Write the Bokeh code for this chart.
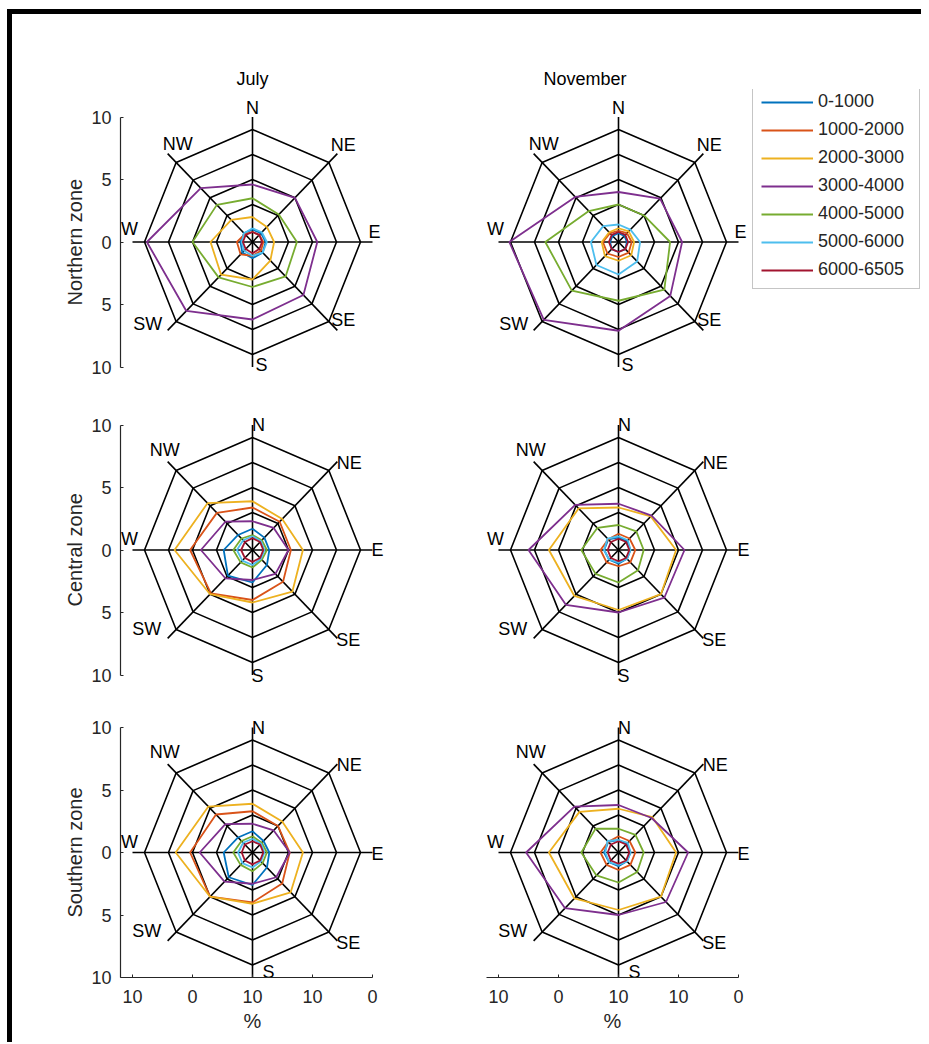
import math
from bokeh.plotting import figure
from bokeh.models import Range1d, FixedTicker, Legend, LegendItem, Div, Spacer, Title
from bokeh.layouts import row, column
from bokeh.core.properties import value
from bokeh.embed import file_html
from bokeh.resources import INLINE

# ---------------- data ----------------
directions = ["N", "NE", "E", "SE", "S", "SW", "W", "NW"]
direction_angles = [0, 45, 90, 135, 180, 225, 270, 315]   # compass degrees
ring_radii = [3, 5, 7, 9]
spoke_length = 10

height_bands = ["0-1000", "1000-2000", "2000-3000", "3000-4000",
                "4000-5000", "5000-6000", "6000-6505"]
band_colors = ["#0072BD", "#D95319", "#EDB120", "#7E2F8E",
               "#77AC30", "#4DBEEE", "#A2142F"]

months = ["July", "November"]
zones = ["Northern zone", "Central zone", "Southern zone"]

# values (%) per height band, directions N, NE, E, SE, S, SW, W, NW
jul_north = [
    [1.0, 1.0, 1.1, 1.2, 1.3, 1.2, 1.0, 1.0],
    [0.8, 0.8, 0.9, 1.0, 1.1, 1.4, 1.3, 0.9],
    [2.0, 1.7, 1.8, 2.1, 3.0, 3.7, 3.5, 2.5],
    [4.6, 5.0, 5.4, 6.0, 6.2, 7.8, 8.8, 6.1],
    [3.5, 3.1, 3.7, 3.9, 3.6, 4.0, 5.0, 4.2],
    [1.1, 1.1, 1.2, 1.2, 1.1, 1.0, 0.9, 1.0],
    [0.8, 0.8, 0.8, 0.8, 0.9, 0.8, 0.8, 0.8],
]
nov_north = [
    [0.7, 0.7, 0.7, 0.8, 0.8, 0.8, 0.7, 0.7],
    [0.9, 1.0, 1.1, 1.2, 1.2, 1.3, 1.3, 1.0],
    [1.1, 1.2, 1.3, 1.5, 1.5, 1.6, 1.4, 1.1],
    [4.0, 4.9, 5.3, 6.1, 7.1, 8.8, 9.1, 5.1],
    [3.0, 3.0, 4.3, 5.4, 4.7, 5.5, 6.1, 3.5],
    [1.4, 1.4, 1.8, 2.2, 2.6, 2.6, 2.3, 1.8],
    [0.8, 0.8, 0.8, 0.8, 0.8, 0.8, 0.8, 0.8],
]
jul_central = [
    [1.7, 1.4, 1.4, 1.7, 2.6, 2.9, 2.4, 1.7],
    [3.4, 3.2, 3.2, 3.6, 4.0, 4.9, 5.2, 4.2],
    [3.9, 3.5, 4.2, 4.7, 4.2, 5.0, 6.5, 5.3],
    [2.3, 2.5, 3.0, 2.7, 2.4, 3.2, 4.3, 3.2],
    [1.2, 1.1, 1.2, 1.1, 1.4, 1.4, 1.6, 1.3],
    [1.1, 1.0, 1.0, 1.0, 1.2, 1.2, 1.3, 1.1],
    [0.95, 0.9, 0.9, 0.9, 0.95, 0.9, 0.95, 0.9],
]
nov_central = [
    [1.0, 1.0, 1.0, 1.0, 1.1, 1.1, 1.2, 1.2],
    [1.3, 1.3, 1.4, 1.4, 1.3, 1.4, 1.5, 1.2],
    [3.4, 3.8, 4.8, 5.0, 4.8, 5.2, 5.8, 4.7],
    [3.7, 3.9, 5.5, 5.4, 5.0, 6.2, 7.5, 5.1],
    [2.0, 2.1, 2.1, 2.3, 2.6, 2.7, 3.1, 2.5],
    [1.1, 1.1, 1.0, 1.0, 1.0, 1.1, 1.2, 1.3],
    [0.9, 0.9, 0.9, 0.9, 0.9, 0.9, 0.9, 0.9],
]
jul_south = [
    [1.7, 1.3, 1.4, 1.7, 2.6, 2.8, 2.4, 1.7],
    [3.3, 3.0, 3.1, 3.5, 4.0, 5.0, 5.2, 4.3],
    [3.9, 3.5, 4.2, 4.5, 4.1, 5.0, 6.4, 5.2],
    [2.3, 2.5, 3.1, 2.8, 2.5, 3.3, 4.4, 3.2],
    [1.3, 1.1, 1.2, 1.2, 1.5, 1.4, 1.6, 1.3],
    [1.1, 1.0, 1.0, 1.0, 1.2, 1.2, 1.2, 1.1],
    [0.9, 0.9, 0.9, 0.9, 0.95, 0.9, 0.9, 0.9],
]
nov_south = [
    [1.0, 1.0, 1.0, 1.0, 1.1, 1.1, 1.2, 1.2],
    [1.3, 1.3, 1.4, 1.4, 1.4, 1.4, 1.5, 1.2],
    [3.5, 4.0, 4.8, 5.0, 4.6, 5.2, 5.8, 4.6],
    [3.8, 3.9, 5.8, 5.6, 5.0, 6.3, 7.7, 5.2],
    [1.9, 2.0, 2.1, 2.2, 2.4, 2.6, 3.1, 2.7],
    [1.0, 1.1, 1.0, 1.0, 1.0, 1.1, 1.1, 1.3],
    [0.9, 0.9, 0.9, 0.9, 0.9, 0.9, 0.9, 0.9],
]

y_ticks = [-10, -5, 0, 5, 10]
y_tick_labels = ["10", "5", "0", "5", "10"]
x_ticks = [-10, -5, 0, 5, 10]
x_tick_labels = ["10", "0", "10", "10", "0"]
x_label = "%"

# ---------------- style ----------------
FONT = "Liberation Sans"
AX = "#262626"
# pixel offsets of direction labels from the spoke ends, per row
label_dx = [
    [0, 6, 2, 6, 9, -20, -3, 10],
    [6, 12, 5, 11, 5, -21, -3, -3],
    [6, 12, 5, 11, 16, -21, -3, -3],
]
label_dy = [
    [-9, -9, -10, -10, -2, -6, -13, -10],
    [0, 1, 0, 2, 1, -9, -11, -12],
    [0, 1, 1, 2, -6, -10, -11, -12],
]
# frame geometry per row: (border top, frame height, border bottom, y min, y max)
row_geom = [
    (75, 290, 3, -11, 12.2),
    (15, 290, 3, -11, 12.2),
    (9, 278, 65, -10, 12.24),
]
# offset (px, upward from frame bottom) of the start of each zone label
zone_label_offset = [74, 81, 60]

panels = [[jul_north, nov_north], [jul_central, nov_central], [jul_south, nov_south]]


def polar_xy(radii):
    xs = [r * math.sin(math.radians(a)) for r, a in zip(radii, direction_angles)]
    ys = [r * math.cos(math.radians(a)) for r, a in zip(radii, direction_angles)]
    return xs + xs[:1], ys + ys[:1]


def style_axis(ax, ticks, labels, bounds):
    ax.ticker = FixedTicker(ticks=ticks)
    ax.major_label_overrides = {t: l for t, l in zip(ticks, labels)}
    ax.bounds = bounds
    ax.axis_line_color = AX
    ax.axis_line_width = 1.2
    ax.major_tick_line_color = AX
    ax.major_tick_in = 3
    ax.major_tick_out = 0
    ax.minor_tick_line_color = None
    ax.major_label_text_font = FONT
    ax.major_label_text_font_size = "18px"
    ax.major_label_text_color = AX


def make_panel(vals, col, r):
    left = col == 0
    top_b, fh, bot_b, y0, y1 = row_geom[r]
    H = top_b + fh + bot_b
    if left:
        W, mbl, mbr = 428, 108, 50
        xr = Range1d(-11, 11.5)
    else:
        W, mbl, mbr = 481, 40, 1
        xr = Range1d(-11.5, -11.5 + 440 / 12)
    kw = {}
    if r == 0:
        kw["title"] = months[col]
    p = figure(width=W, height=H, x_range=xr, y_range=Range1d(y0, y1),
               output_backend="svg", toolbar_location=None,
               x_axis_location="below" if r == 2 else None,
               y_axis_location="left" if left else None,
               min_border_left=mbl, min_border_right=mbr,
               min_border_top=top_b, min_border_bottom=bot_b, **kw)
    p.grid.visible = False
    p.outline_line_color = None
    p.background_fill_color = "white"
    p.border_fill_color = None

    # rings and spokes
    for rr in ring_radii:
        xs, ys = polar_xy([rr] * len(directions))
        p.line(xs, ys, line_color="black", line_width=1.6)
    ex, ey = polar_xy([spoke_length] * len(directions))
    p.segment(x0=[0] * 8, y0=[0] * 8, x1=ex[:8], y1=ey[:8],
              line_color="black", line_width=1.6)

    renderers = []
    for k, series in enumerate(vals):
        xs, ys = polar_xy(series)
        renderers.append(p.line(xs, ys, line_color=band_colors[k], line_width=1.8))

    p.text(x=ex[:8], y=ey[:8], text=directions, x_offset=label_dx[r], y_offset=label_dy[r],
           text_font=value(FONT), text_font_size="18px", text_color="black",
           text_align="center", text_baseline="middle")

    if left:
        ya = p.yaxis[0]
        style_axis(ya, y_ticks, y_tick_labels, (-10, 10))
        ya.major_label_standoff = 9
        zt = Title(text=zones[r], align="left", offset=zone_label_offset[r],
                   text_font=FONT, text_font_size="20px", text_font_style="normal",
                   text_color=AX, standoff=6)
        p.add_layout(zt, "left")
    if r == 2:
        xa = p.xaxis[0]
        style_axis(xa, x_ticks, x_tick_labels, (-11, 10))
        xa.major_label_standoff = 12
        pt = Title(text=x_label, align="left", offset=123 if left else 123,
                   text_font=FONT, text_font_size="20px", text_font_style="normal",
                   text_color=AX, standoff=4)
        p.add_layout(pt, "below")
    if r == 0:
        p.title.text_font = FONT
        p.title.text_font_size = "18px"
        p.title.text_font_style = "normal"
        p.title.text_color = "black"
        p.title.align = "left"
        p.title.offset = 116 if left else 63
        p.title.standoff = 2
    if r == 0 and not left:
        legend = Legend(items=[LegendItem(label=b, renderers=[rr])
                               for b, rr in zip(height_bands, renderers)],
                        location=(272, 90))
        legend.label_text_font = FONT
        legend.label_text_font_size = "18px"
        legend.label_text_color = AX
        legend.glyph_width = 52
        legend.glyph_height = 20
        legend.label_height = 20
        legend.label_width = 93
        legend.spacing = 7
        legend.padding = 8
        legend.label_standoff = 5
        legend.margin = 0
        legend.border_line_color = "#8c8c8c"
        legend.border_line_width = 1
        legend.background_fill_color = "white"
        legend.background_fill_alpha = 1
        p.add_layout(legend)
    return p


rows = []
for r in range(3):
    rows.append(row(make_panel(panels[r][0], 0, r), make_panel(panels[r][1], 1, r)))
grid = column(*rows)

top_border = Div(text="", width=909 + 5, height=5, margin=(0, 0, 0, 0),
                 styles={"background-color": "black"})
left_border = Div(text="", width=5, height=1028, margin=(0, 0, 0, 0),
                  styles={"background-color": "black"})

page = column(
    Spacer(width=10, height=9),
    row(Spacer(width=7, height=5), top_border),
    row(Spacer(width=7, height=1028), left_border, grid),
)

open("out.html", "w").write(file_html(page, INLINE))
